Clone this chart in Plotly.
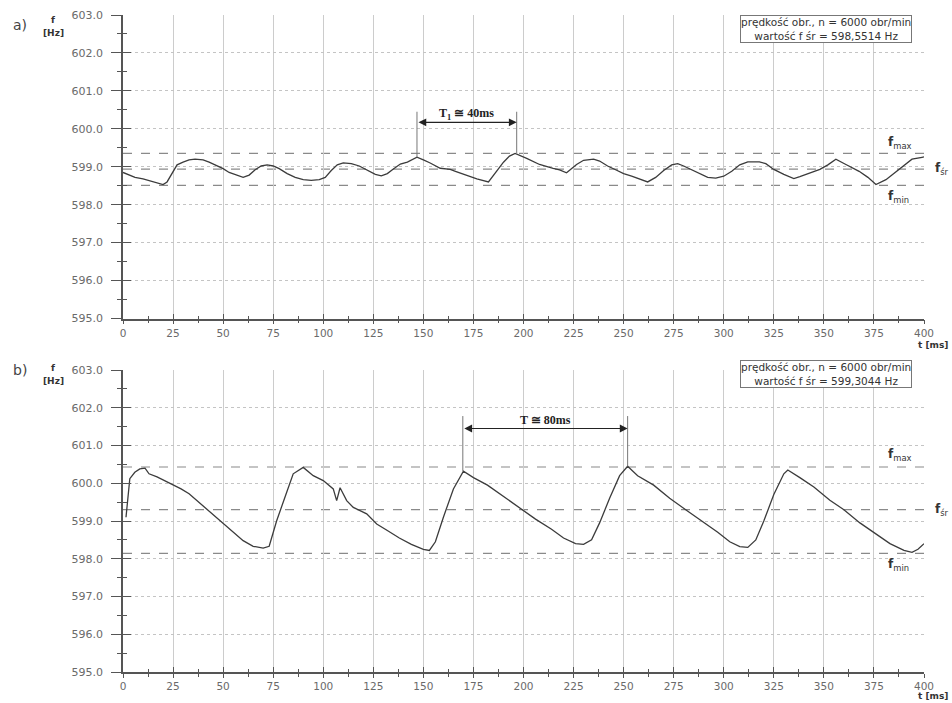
import plotly.graph_objects as go

# ---------------- data ----------------
t_a = [0, 3, 6, 10, 14, 17, 20, 22, 25, 27, 30, 33, 36, 40, 43, 46, 50, 53, 57, 60,
       63, 66, 69, 72, 75, 78, 82, 86, 90, 94, 98, 101, 104, 107, 110, 114, 118, 122,
       126, 129, 132, 135, 138.5, 142, 146.8, 150, 153.4, 158.4, 163.4, 166, 170,
       176.7, 182.5, 186.6, 190, 193, 195.8, 201.6, 208, 214.8, 218, 221.5, 226.5,
       230, 235, 238, 242, 246, 250, 254, 258, 262, 266, 270, 274, 277, 280, 284,
       288, 292, 296, 300, 304, 308, 312, 317.8, 321, 325, 330, 335, 338, 341, 348,
       352, 356, 361, 367.6, 372, 376, 381, 385, 389, 394, 399, 400]
f_a = [598.85, 598.78, 598.72, 598.68, 598.62, 598.58, 598.53, 598.60, 598.85, 599.05,
       599.12, 599.18, 599.20, 599.18, 599.12, 599.05, 598.95, 598.85, 598.78, 598.72,
       598.78, 598.92, 599.02, 599.05, 599.02, 598.95, 598.82, 598.72, 598.66, 598.64,
       598.66, 598.72, 598.90, 599.05, 599.10, 599.08, 599.02, 598.92, 598.80, 598.76,
       598.82, 598.94, 599.07, 599.12, 599.25, 599.18, 599.10, 598.96, 598.93, 598.88,
       598.80, 598.68, 598.60, 598.88, 599.12, 599.28, 599.35, 599.22, 599.06, 598.96,
       598.92, 598.84, 599.06, 599.17, 599.20, 599.15, 599.02, 598.92, 598.82, 598.75,
       598.68, 598.60, 598.72, 598.90, 599.05, 599.08, 599.02, 598.92, 598.80, 598.72,
       598.70, 598.75, 598.88, 599.05, 599.13, 599.13, 599.08, 598.93, 598.80, 598.69,
       598.74, 598.80, 598.93, 599.05, 599.20, 599.06, 598.88, 598.72, 598.53, 598.66,
       598.82, 599.00, 599.20, 599.25, 599.26]

t_b = [1.5, 3.4, 5.9, 8.4, 11, 13, 17, 21, 25, 29, 33, 36.7, 40, 46, 50, 55, 60, 65,
       70, 73, 76.7, 81, 85, 90, 95, 100, 105, 106.7, 108.4, 111.7, 115, 121.7, 126.7,
       132, 138, 144, 150, 153, 156, 160, 165, 170, 175, 182, 190, 198, 206, 214, 220,
       226, 230, 234, 238, 243, 248, 252, 257, 265, 273, 281, 289, 297, 303, 308, 312,
       316, 320, 325, 330, 332, 338, 345, 353, 360, 368, 376, 383, 390, 394, 397, 400]
f_b = [599.10, 600.12, 600.29, 600.38, 600.40, 600.25, 600.17, 600.07, 599.97, 599.85,
       599.72, 599.55, 599.38, 599.10, 598.92, 598.70, 598.48, 598.33, 598.28, 598.33,
       599.00, 599.65, 600.25, 600.42, 600.20, 600.07, 599.85, 599.54, 599.88, 599.54,
       599.36, 599.19, 598.92, 598.75, 598.55, 598.38, 598.25, 598.22, 598.45, 599.10,
       599.85, 600.32, 600.15, 599.95, 599.65, 599.35, 599.05, 598.78, 598.55, 598.40,
       598.38, 598.50, 598.95, 599.60, 600.20, 600.45, 600.20, 599.95, 599.60, 599.30,
       599.00, 598.70, 598.45, 598.32, 598.30, 598.50, 599.00, 599.70, 600.25, 600.35,
       600.15, 599.90, 599.55, 599.30, 598.95, 598.65, 598.40, 598.22, 598.17, 598.25,
       598.40]

# reference levels: f_max, f_sr, f_min
levels_a = [599.35, 598.94, 598.51]
levels_b = [600.43, 599.30, 598.14]
level_names = ["<b>f</b><sub>max</sub>", "<b>f</b><sub>śr</sub>", "<b>f</b><sub>min</sub>"]

# period markers (start, end)
period_a = [146.8, 196.6]
period_b = [169.7, 252.0]
period_label_a = "T<sub>1</sub> ≅ 40ms"
period_label_b = "T ≅ 80ms"

info_a = "prędkość obr., n = 6000 obr/min<br>wartość f śr = 598,5514 Hz"
info_b = "prędkość obr., n = 6000 obr/min<br>wartość f śr = 599,3044 Hz"

x_ticks = list(range(0, 401, 25))
y_ticks = [595.0, 596.0, 597.0, 598.0, 599.0, 600.0, 601.0, 602.0, 603.0]
X_RANGE = [0, 400]
Y_RANGE = [595, 603]

# ---------------- layout helpers ----------------
W, H = 952, 703
def px(x):
    return x / W
def py(y):
    return 1 - y / H

XDOM = [px(123), px(924)]
YDOM_A = [py(318.5), py(15)]
YDOM_B = [py(672), py(370)]

AXCOL = "#555555"
TICKFONT = dict(family="DejaVu Sans", size=11, color="#6a6a6a")
XTICKFONT = dict(family="DejaVu Sans", size=10.5, color="#6a6a6a")
LINECOL = "#3c3c3c"
LABELFONT = dict(family="DejaVu Sans", size=12, color="#333")

fig = go.Figure()

fig.add_trace(go.Scatter(x=t_a, y=f_a, mode="lines", xaxis="x", yaxis="y",
                         line=dict(color=LINECOL, width=1.3), hoverinfo="skip"))
fig.add_trace(go.Scatter(x=t_b, y=f_b, mode="lines", xaxis="x2", yaxis="y2",
                         line=dict(color=LINECOL, width=1.3), hoverinfo="skip"))
# dummy traces for overlay axes (inside tick halves)
fig.add_trace(go.Scatter(x=[], y=[], xaxis="x3", yaxis="y3", showlegend=False))
fig.add_trace(go.Scatter(x=[], y=[], xaxis="x4", yaxis="y4", showlegend=False))

def xaxis_main(anchor):
    return dict(domain=XDOM, anchor=anchor, range=X_RANGE, tickmode="array",
                tickvals=x_ticks, showgrid=True, gridcolor="#cccccc", gridwidth=1,
                showline=True, linecolor=AXCOL, linewidth=1.5, ticks="outside",
                ticklen=4, tickwidth=1.3, tickcolor=AXCOL, tickfont=XTICKFONT,
                ticklabelstandoff=0, automargin=False,
                minor=dict(ticks="outside", ticklen=3, tickwidth=1, tickcolor=AXCOL,
                           dtick=12.5, tick0=0, showgrid=False),
                zeroline=False, fixedrange=True)

def yaxis_main(anchor, dom):
    return dict(domain=dom, anchor=anchor, range=Y_RANGE, tickmode="array",
                tickvals=y_ticks, tickformat=".1f", showgrid=True,
                gridcolor="#c4c4c4", griddash="dot", gridwidth=1,
                showline=True, linecolor=AXCOL, linewidth=1.5, ticks="outside",
                ticklen=10, tickwidth=1.3, tickcolor=AXCOL, tickfont=TICKFONT,
                ticklabelstandoff=6, automargin=False,
                minor=dict(ticks="outside", ticklen=4, tickwidth=1, tickcolor=AXCOL,
                           dtick=0.5, tick0=595, showgrid=False),
                zeroline=False, fixedrange=True)

def xaxis_over(over, anchor):
    return dict(overlaying=over, anchor=anchor, range=X_RANGE, tickmode="array",
                tickvals=x_ticks, showticklabels=False, showgrid=False,
                showline=False, ticks="inside", ticklen=5, tickwidth=1.3,
                tickcolor=AXCOL, automargin=False,
                minor=dict(ticks="inside", ticklen=3, tickwidth=1, tickcolor=AXCOL,
                           dtick=12.5, tick0=0, showgrid=False),
                zeroline=False, fixedrange=True)

def yaxis_over(over, anchor):
    return dict(overlaying=over, anchor=anchor, range=Y_RANGE, tickmode="array",
                tickvals=y_ticks, showticklabels=False, showgrid=False,
                showline=False, ticks="inside", ticklen=8, tickwidth=1.3,
                tickcolor=AXCOL, automargin=False,
                minor=dict(ticks="inside", ticklen=4, tickwidth=1, tickcolor=AXCOL,
                           dtick=0.5, tick0=595, showgrid=False),
                zeroline=False, fixedrange=True)

shapes = []
annotations = []

def panel(xref, yref, levels, period, t, f, label, info, letter, box_y, top_y,
          arrow_y, mark_top, label_y, shift_max, shift_min):
    # dashed reference levels
    for lv in levels:
        shapes.append(dict(type="line", xref=xref, yref=yref, x0=X_RANGE[0], x1=X_RANGE[1],
                           y0=lv, y1=lv, line=dict(color="#8a8a8a", width=1.2, dash="dash"),
                           layer="below"))
    annotations.append(dict(xref="paper", yref=yref, x=px(886), y=levels[0], yshift=shift_max,
                            text=level_names[0], showarrow=False, xanchor="left",
                            font=LABELFONT))
    annotations.append(dict(xref="paper", yref=yref, x=px(933), y=levels[1],
                            text=level_names[1], showarrow=False, xanchor="left",
                            font=LABELFONT))
    annotations.append(dict(xref="paper", yref=yref, x=px(886), y=levels[2], yshift=shift_min,
                            text=level_names[2], showarrow=False, xanchor="left",
                            font=LABELFONT))
    # period markers: vertical lines from the curve up to above the arrow
    for tp in period:
        i = min(range(len(t)), key=lambda k: abs(t[k] - tp))
        shapes.append(dict(type="line", xref=xref, yref=yref, x0=tp, x1=tp,
                           y0=f[i], y1=mark_top, line=dict(color="#777", width=1)))
    annotations.append(dict(xref=xref, yref=yref, x=period[1], y=arrow_y,
                            ax=period[0], ay=arrow_y, axref=xref, ayref=yref,
                            text="", showarrow=True, arrowside="end+start",
                            arrowhead=2, arrowsize=1.3, arrowwidth=1.2,
                            arrowcolor="#222", startarrowhead=2, startarrowsize=1.3))
    annotations.append(dict(xref=xref, yref=yref, x=(period[0] + period[1]) / 2,
                            y=label_y, text="<b>" + label + "</b>", showarrow=False,
                            font=dict(family="Liberation Serif", size=12, color="#222")))
    # info box
    annotations.append(dict(xref="paper", yref="paper", x=px(826), y=py(box_y),
                            text=info, showarrow=False, align="center",
                            font=dict(family="DejaVu Sans", size=10.5, color="#333"),
                            bordercolor="#777", borderwidth=1, borderpad=0,
                            bgcolor="white", xanchor="center", yanchor="middle"))
    # panel letter and y title
    annotations.append(dict(xref="paper", yref="paper", x=px(20), y=py(top_y),
                            text=letter, showarrow=False, xanchor="center",
                            font=dict(family="DejaVu Sans", size=14, color="#444")))
    annotations.append(dict(xref="paper", yref="paper", x=px(53), y=py(top_y - 2),
                            text="<b>f</b>", showarrow=False, xanchor="center",
                            font=dict(family="DejaVu Sans", size=9, color="#333")))
    annotations.append(dict(xref="paper", yref="paper", x=px(53), y=py(top_y + 11),
                            text="<b>[Hz]</b>", showarrow=False, xanchor="center",
                            font=dict(family="DejaVu Sans", size=9, color="#333")))

panel("x", "y", levels_a, period_a, t_a, f_a, period_label_a, info_a, "a)",
      29.5, 15, 600.17, 600.45, 600.4, 10, -12)
panel("x2", "y2", levels_b, period_b, t_b, f_b, period_label_b, info_b, "b)",
      374, 370, 601.45, 601.78, 601.68, 12, -12)

# x-axis titles (anchored by their bottom edge)
for ypx in (352, 703):
    annotations.append(dict(xref="paper", yref="paper", x=px(950), y=py(ypx),
                            text="<b>t [ms]</b>", showarrow=False, xanchor="right",
                            yanchor="bottom",
                            font=dict(family="DejaVu Sans", size=9, color="#333")))

fig.update_layout(
    width=W, height=H, margin=dict(l=0, r=0, t=0, b=0, autoexpand=False),
    paper_bgcolor="white", plot_bgcolor="white", showlegend=False,
    xaxis=xaxis_main("y"), yaxis=yaxis_main("x", YDOM_A),
    xaxis2=xaxis_main("y2"), yaxis2=yaxis_main("x2", YDOM_B),
    xaxis3=xaxis_over("x", "y"), yaxis3=yaxis_over("y", "x"),
    xaxis4=xaxis_over("x2", "y2"), yaxis4=yaxis_over("y2", "x2"),
    shapes=shapes, annotations=annotations,
)

fig.write_html("out.html", config={"displayModeBar": False},
               post_script="document.body.style.margin='0px';"
                           "document.body.style.overflow='hidden';")
